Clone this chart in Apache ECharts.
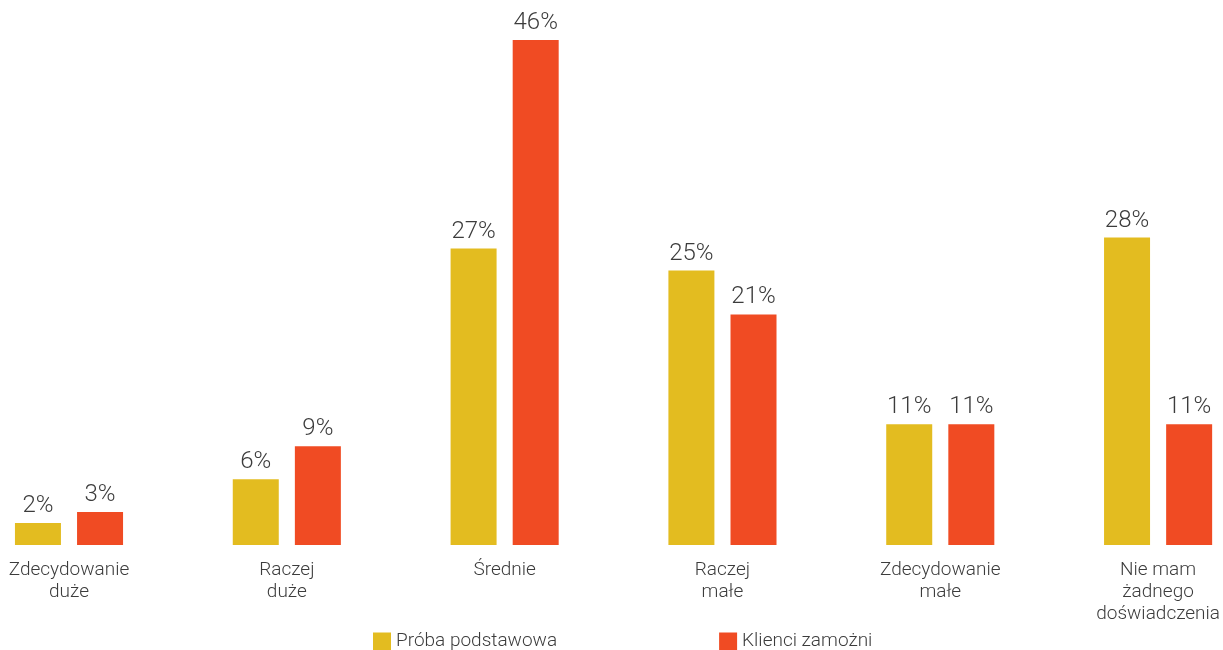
<!DOCTYPE html>
<html>
<head>
<meta charset="utf-8">
<script src="https://cdn.jsdelivr.net/npm/echarts@6/dist/echarts.min.js"></script>
<style>
  html, body { margin: 0; padding: 0; background: #fff; }
  #chart { width: 1223px; height: 650px; }
</style>
</head>
<body>
<div id="chart"></div>
<script>
// Answer categories (axis labels, line breaks included)
const categories = [
  'Zdecydowanie\nduże',
  'Raczej\nduże',
  'Średnie',
  'Raczej\nmałe',
  'Zdecydowanie\nmałe',
  'Nie mam\nżadnego\ndoświadczenia'
];
// Share of respondents, in percent
const probaPodstawowa = [2, 6, 27, 25, 11, 28];
const klienciZamozni = [3, 9, 46, 21, 11, 11];
const seriesNames = ['Próba podstawowa', 'Klienci zamożni'];

const FONT = 'Roboto, "Noto Sans", sans-serif';
const TEXT = '#3c3c3c';

const chart = echarts.init(document.getElementById('chart'));

const barLabel = {
  show: true,
  position: 'top',
  distance: 5,
  formatter: p => p.value + '%',
  fontFamily: FONT,
  fontWeight: 300,
  fontSize: 24,
  color: TEXT
};

chart.setOption({
  animation: false,
  backgroundColor: '#ffffff',
  // categories sit on the axis points; the outer bars may extend past the grid edge
  grid: { left: 69, right: 62, top: 40, bottom: 105, containLabel: false },
  legend: {
    top: 632,
    left: 373,
    padding: 0,
    itemWidth: 18,
    itemHeight: 18,
    itemGap: 162,
    icon: 'rect',
    textStyle: { fontFamily: FONT, fontWeight: 300, fontSize: 19, color: TEXT, padding: [7, 0, 0, 0] },
    data: seriesNames
  },
  xAxis: {
    type: 'category',
    data: categories,
    boundaryGap: false,
    axisLine: { show: false },
    axisTick: { show: false },
    axisLabel: {
      interval: 0,
      margin: 14,
      fontFamily: FONT,
      fontWeight: 300,
      fontSize: 19,
      lineHeight: 22,
      color: TEXT
    }
  },
  yAxis: {
    type: 'value',
    min: 0,
    max: 46,
    show: false,
    splitLine: { show: false }
  },
  series: [
    {
      name: seriesNames[0],
      type: 'bar',
      data: probaPodstawowa,
      barWidth: 46,
      barGap: '35%',
      clip: false,
      itemStyle: { color: '#E3BC20' },
      label: barLabel
    },
    {
      name: seriesNames[1],
      type: 'bar',
      data: klienciZamozni,
      barWidth: 46,
      barGap: '35%',
      clip: false,
      itemStyle: { color: '#F04B23' },
      label: barLabel
    }
  ]
});
</script>
</body>
</html>
